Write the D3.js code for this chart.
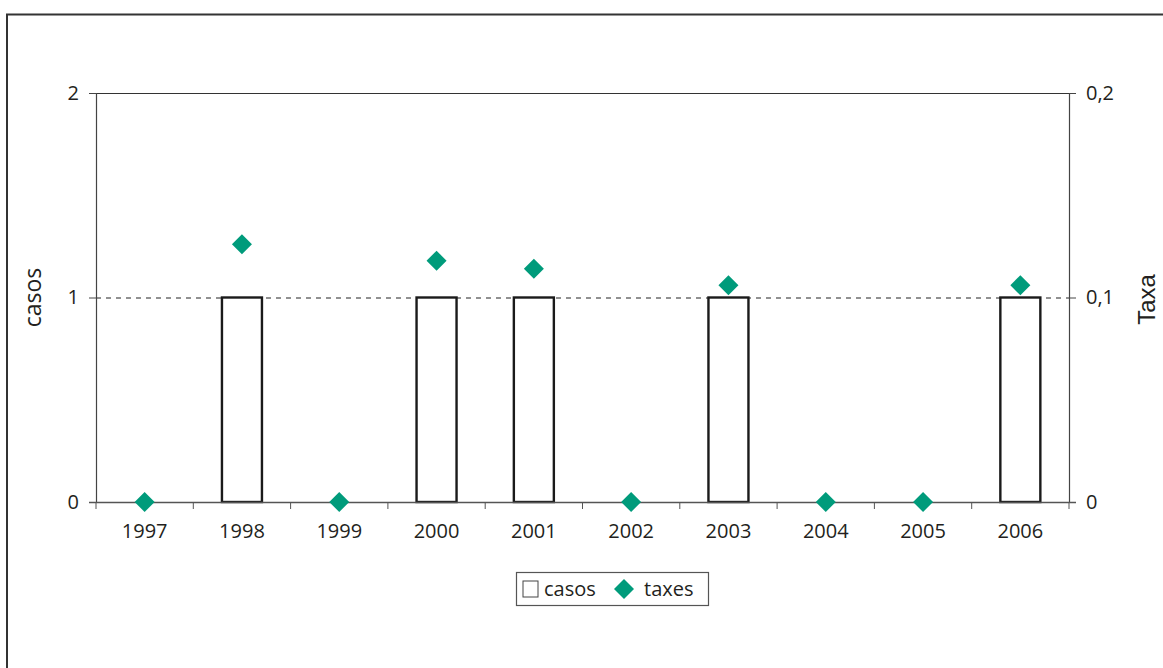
<!DOCTYPE html>
<html>
<head>
<meta charset="utf-8">
<script src="https://cdn.jsdelivr.net/npm/d3@7"></script>
<style>
  html, body { margin: 0; padding: 0; background: #fff; }
  svg { display: block; }
  text { font-family: "Open Sans", "Noto Sans", sans-serif; fill: #231f20; }
</style>
</head>
<body>
<svg id="chart" width="1163" height="668"></svg>
<script>
// Annual cases (left axis) and rates (right axis)
const years = ["1997", "1998", "1999", "2000", "2001", "2002", "2003", "2004", "2005", "2006"];
const casos = [0, 1, 0, 1, 1, 0, 1, 0, 0, 1];
const taxes = [0, 0.126, 0, 0.118, 0.114, 0, 0.106, 0, 0, 0.106];
const leftTicks = [0, 1, 2];
const rightTicks = [0, 0.1, 0.2];

const svg = d3.select("#chart");
const plot = { left: 96, right: 1069, top: 93, bottom: 502 };
const green = "#009b7b";
const ink = "#231f20";

// outer frame (left and top edges)
svg.append("path")
  .attr("d", `M7,668 V14.5 H1163`)
  .attr("fill", "none").attr("stroke", "#333").attr("stroke-width", 2);

const x = d3.scaleBand().domain(years).range([plot.left, plot.right]).paddingInner(0).paddingOuter(0);
const yL = d3.scaleLinear().domain([0, 2]).range([plot.bottom, plot.top]);
const yR = d3.scaleLinear().domain([0, 0.2]).range([plot.bottom, plot.top]);

// dashed gridline at 1
svg.append("g").selectAll("line")
  .data(leftTicks.filter(d => d > 0 && d < 2))
  .join("line")
  .attr("x1", plot.left).attr("x2", plot.right)
  .attr("y1", d => yL(d) + 0.5).attr("y2", d => yL(d) + 0.5)
  .attr("stroke", "#222").attr("stroke-width", 1).attr("stroke-dasharray", "5,5");

// top edge of the plot area
svg.append("line")
  .attr("x1", plot.left).attr("x2", plot.right)
  .attr("y1", plot.top + 0.5).attr("y2", plot.top + 0.5)
  .attr("stroke", "#333").attr("stroke-width", 1.2);

// bars
const barW = 40;
svg.append("g").selectAll("rect")
  .data(years.map((y, i) => ({ y, v: casos[i] })).filter(d => d.v > 0))
  .join("rect")
  .attr("x", d => x(d.y) + x.bandwidth() / 2 - barW / 2)
  .attr("y", d => yL(d.v))
  .attr("width", barW)
  .attr("height", d => yL(0) - yL(d.v))
  .attr("fill", "#fff").attr("stroke", "#1a1a1a").attr("stroke-width", 2.4);

// axes
const fontSize = "20px";
const axL = svg.append("g").attr("transform", `translate(${plot.left},0)`)
  .call(d3.axisLeft(yL).tickValues(leftTicks).tickFormat(d3.format("d")).tickSize(7).tickPadding(10));
const axR = svg.append("g").attr("transform", `translate(${plot.right},0)`)
  .call(d3.axisRight(yR).tickValues(rightTicks).tickFormat(d => d === 0 ? "0" : d3.format(".1f")(d).replace(".", ",")).tickSize(7).tickPadding(10));
const axB = svg.append("g").attr("transform", `translate(0,${plot.bottom})`)
  .call(d3.axisBottom(x).tickSize(0).tickPadding(22));
// category boundary ticks
svg.append("g").selectAll("line")
  .data(d3.range(years.length + 1))
  .join("line")
  .attr("x1", i => plot.left + i * x.bandwidth()).attr("x2", i => plot.left + i * x.bandwidth())
  .attr("y1", plot.bottom).attr("y2", plot.bottom + 7)
  .attr("stroke", "#555").attr("stroke-width", 1);

[axL, axR, axB].forEach(g => {
  g.select(".domain").attr("stroke", "#444").attr("stroke-width", 1.2);
  g.selectAll(".tick line").attr("stroke", "#444");
  g.selectAll(".tick text").style("font-size", fontSize).attr("fill", ink)
    .style("font-family", "'Open Sans', sans-serif");
});
// baseline extends across tick marks
axB.select(".domain").remove();
svg.append("line")
  .attr("x1", plot.left - 7).attr("x2", plot.right + 7)
  .attr("y1", plot.bottom + 0.5).attr("y2", plot.bottom + 0.5)
  .attr("stroke", "#555").attr("stroke-width", 1.5);

// diamonds for rates
const diamond = d3.symbol().type(d3.symbolSquare).size(200);
svg.append("g").selectAll("path")
  .data(years.map((y, i) => ({ y, v: taxes[i] })))
  .join("path")
  .attr("d", diamond)
  .attr("transform", d => `translate(${x(d.y) + x.bandwidth() / 2},${yR(d.v)}) rotate(45)`)
  .attr("fill", green);

// axis titles
svg.append("text")
  .attr("transform", `translate(41,${(plot.top + plot.bottom) / 2}) rotate(-90)`)
  .attr("text-anchor", "middle")
  .style("font-size", "23px")
  .text("casos");
svg.append("text")
  .attr("transform", `translate(1155,${(plot.top + plot.bottom) / 2 + 2}) rotate(-90)`)
  .attr("text-anchor", "middle")
  .style("font-size", "24px")
  .style("font-family", "'Liberation Sans', Arial, sans-serif")
  .text("Taxa");

// legend
const lg = svg.append("g").attr("transform", "translate(516,572)");
lg.append("rect").attr("x", 0.5).attr("y", 0.5).attr("width", 192).attr("height", 33)
  .attr("fill", "#fff").attr("stroke", "#555").attr("stroke-width", 1.2);
lg.append("rect").attr("x", 7).attr("y", 9).attr("width", 15).attr("height", 16)
  .attr("fill", "#fff").attr("stroke", "#444").attr("stroke-width", 1);
lg.append("text").attr("x", 28).attr("y", 24).style("font-size", fontSize).text("casos");
lg.append("path").attr("d", diamond)
  .attr("transform", "translate(108,17) rotate(45)").attr("fill", green);
lg.append("text").attr("x", 128).attr("y", 24).style("font-size", fontSize).text("taxes");
</script>
</body>
</html>
